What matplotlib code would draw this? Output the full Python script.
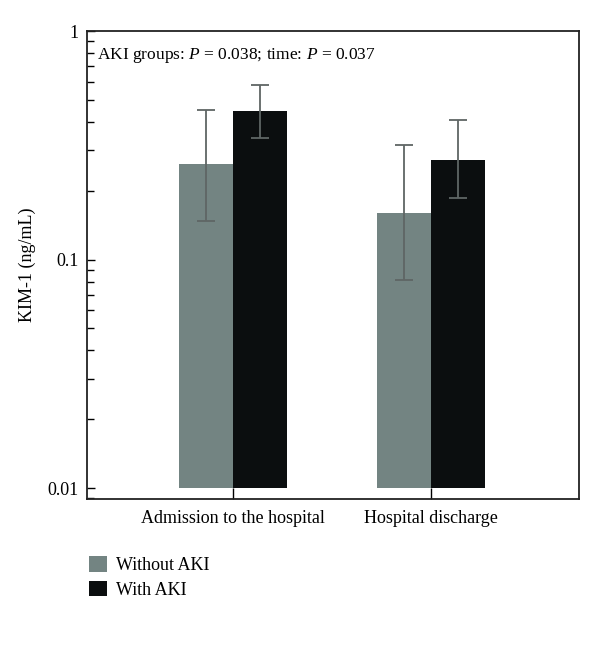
import matplotlib
matplotlib.use("Agg")
import matplotlib.pyplot as plt
from matplotlib.patches import Patch
import numpy as np

# KIM-1 (ng/mL) by time point
timepoints = ["Admission to the hospital", "Hospital discharge"]
without_aki = [0.262, 0.159]
without_aki_lo = [0.147, 0.0816]
without_aki_hi = [0.451, 0.317]
with_aki = [0.448, 0.272]
with_aki_lo = [0.341, 0.186]
with_aki_hi = [0.582, 0.407]

gray = "#738482"
black = "#0b0e0f"
errcol = "#5f6665"

plt.rcParams['font.family'] = ['Liberation Serif', 'DejaVu Serif']
plt.rcParams['mathtext.fontset'] = 'custom'
plt.rcParams['mathtext.rm'] = 'Liberation Serif'
plt.rcParams['mathtext.it'] = 'Liberation Serif:italic'

fig = plt.figure(figsize=(6, 6.49), dpi=100)
ax = fig.add_axes([0.145, 0.2311, 0.82, 0.7211])

x = np.arange(len(timepoints))
w = 0.273
base = 0.01

h1 = np.array(without_aki) - base
h2 = np.array(with_aki) - base
ax.bar(x - w / 2, h1, w, bottom=base, color=gray, linewidth=0)
ax.bar(x + w / 2, h2, w, bottom=base, color=black, linewidth=0)

# asymmetric error bars
err1 = [np.array(without_aki) - np.array(without_aki_lo), np.array(without_aki_hi) - np.array(without_aki)]
err2 = [np.array(with_aki) - np.array(with_aki_lo), np.array(with_aki_hi) - np.array(with_aki)]
ax.errorbar(x - w / 2, without_aki, yerr=err1, fmt='none', ecolor=errcol, elinewidth=1.3, capsize=6.5, capthick=1.3)
ax.errorbar(x + w / 2, with_aki, yerr=err2, fmt='none', ecolor=errcol, elinewidth=1.3, capsize=6.5, capthick=1.3)

ax.set_yscale('log')
ax.set_ylim(0.00895, 1)
ax.set_xlim(-0.737, 1.747)
ax.set_yticks([0.01, 0.1, 1])
ax.set_yticklabels(["0.01", "0.1", "1"])
ax.set_xticks(x)
ax.set_xticklabels(timepoints)
ax.tick_params(axis='y', which='major', direction='in', length=6, width=1, labelsize=13, pad=6)
ax.tick_params(axis='y', which='minor', direction='in', length=5, width=1)
ax.tick_params(axis='x', direction='in', length=8, width=1, labelsize=13, pad=8)
for s in ax.spines.values():
    s.set_linewidth(1.3)
    s.set_color("#222222")

ax.set_ylabel("KIM-1 (ng/mL)", fontsize=13, labelpad=8)

ax.text(0.02, 0.967, "AKI groups: $P$ = 0.038; time: $P$ = 0.037",
        transform=ax.transAxes, fontsize=12.5, va='top', ha='left')

handles = [Patch(facecolor=gray, label="Without AKI"), Patch(facecolor=black, label="With AKI")]
fig.legend(handles=handles, loc='upper left', bbox_to_anchor=(0.122, 0.168), frameon=False,
           fontsize=13, handlelength=0.95, handleheight=0.95, handletextpad=0.5, labelspacing=0.35)

fig.savefig("out.png", dpi=100)
